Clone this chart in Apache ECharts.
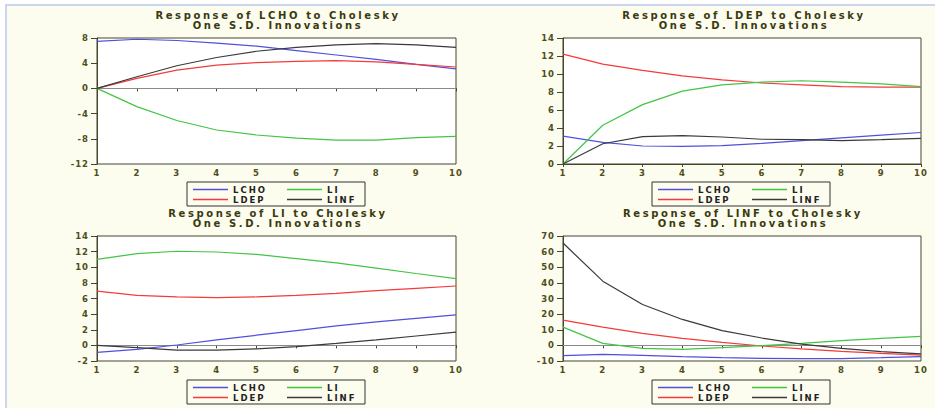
<!DOCTYPE html>
<html>
<head>
<meta charset="utf-8">
<script src="https://cdn.jsdelivr.net/npm/echarts@6/dist/echarts.min.js"></script>
<style>
  html, body { margin: 0; padding: 0; background: #ffffff; }
  #frame { position: absolute; left: 5px; top: 4px; width: 930px; height: 404px;
           border-left: 2px solid #c9d6ee; border-top: 2px solid #c9d6ee; background: #fcfcef; }
  #chart { position: absolute; left: 0; top: 0; width: 935px; height: 408px; }
</style>
</head>
<body>
<div id="frame"></div>
<div id="chart"></div>
<script>
// Periods (x axis)
const periods = [1, 2, 3, 4, 5, 6, 7, 8, 9, 10];
const shocks = ['LCHO', 'LDEP', 'LI', 'LINF'];

// Response of LCHO
const lchoToLCHO = [7.47, 7.8, 7.6, 7.2, 6.7, 6.0, 5.3, 4.6, 3.8, 3.1];
const lchoToLDEP = [0, 1.6, 2.9, 3.7, 4.1, 4.3, 4.4, 4.2, 3.8, 3.4];
const lchoToLI   = [0, -2.9, -5.1, -6.6, -7.4, -7.9, -8.2, -8.2, -7.8, -7.6];
const lchoToLINF = [0, 1.85, 3.6, 4.9, 5.9, 6.5, 6.9, 7.1, 6.9, 6.5];

// Response of LDEP
const ldepToLCHO = [3.1, 2.4, 2.0, 1.95, 2.05, 2.3, 2.6, 2.9, 3.2, 3.5];
const ldepToLDEP = [12.2, 11.1, 10.4, 9.8, 9.35, 9.0, 8.8, 8.6, 8.55, 8.55];
const ldepToLI   = [0, 4.3, 6.6, 8.1, 8.8, 9.1, 9.25, 9.1, 8.9, 8.6];
const ldepToLINF = [0, 2.25, 3.05, 3.15, 3.0, 2.75, 2.7, 2.6, 2.7, 2.85];

// Response of LI
const liToLCHO = [-0.9, -0.5, 0.05, 0.7, 1.3, 1.9, 2.5, 3.0, 3.45, 3.9];
const liToLDEP = [6.95, 6.4, 6.2, 6.1, 6.2, 6.4, 6.65, 7.0, 7.3, 7.6];
const liToLI   = [11.0, 11.75, 12.05, 11.95, 11.65, 11.1, 10.55, 9.9, 9.2, 8.55];
const liToLINF = [0, -0.3, -0.6, -0.6, -0.45, -0.15, 0.25, 0.7, 1.2, 1.7];

// Response of LINF
const linfToLCHO = [-6.6, -5.7, -6.4, -7.2, -7.9, -8.3, -8.5, -8.5, -7.9, -7.2];
const linfToLDEP = [16.2, 11.7, 7.7, 4.5, 1.9, -0.4, -2.3, -3.8, -5.1, -6.2];
const linfToLI   = [11.7, 1.3, -1.9, -2.6, -1.5, -0.2, 1.3, 3.0, 4.5, 5.7];
const linfToLINF = [65.5, 41.1, 26.2, 16.6, 9.4, 4.7, 0.85, -1.9, -4.0, -5.5];

// Panel titles and axis settings
const titles = [
  'Response of LCHO to Cholesky\nOne S.D. Innovations',
  'Response of LDEP to Cholesky\nOne S.D. Innovations',
  'Response of LI to Cholesky\nOne S.D. Innovations',
  'Response of LINF to Cholesky\nOne S.D. Innovations'
];
const yMins = [-12, 0, -2, -10];
const yMaxs = [8, 14, 14, 70];
const yIntervals = [4, 2, 2, 10];
const showZero = [true, false, true, true];

const panelData = [
  [lchoToLCHO, lchoToLDEP, lchoToLI, lchoToLINF],
  [ldepToLCHO, ldepToLDEP, ldepToLI, ldepToLINF],
  [liToLCHO, liToLDEP, liToLI, liToLINF],
  [linfToLCHO, linfToLDEP, linfToLI, linfToLINF]
];

const colors = { LCHO: '#5050dc', LDEP: '#f53a3a', LI: '#44c444', LINF: '#3a3a3a' };
const titleColor = '#3a3a0e';
const labelColor = '#4e4e18';
const axisColor = '#46462a';
const font = 'DejaVu Sans';

// Layout
const grids = [
  { left: 97, top: 38, width: 359, height: 126 },
  { left: 563, top: 38, width: 358, height: 126 },
  { left: 97, top: 236, width: 359, height: 125 },
  { left: 563, top: 236, width: 358, height: 125 }
];
const titlePos = [ [278, 11], [744, 11], [278, 209], [743, 209] ];
const legendPos = [ [187, 182], [652, 182], [187, 380], [652, 380] ];

const option = {
  backgroundColor: 'transparent',
  animation: false,
  title: titles.map((t, i) => ({
    text: t,
    left: titlePos[i][0],
    top: titlePos[i][1],
    textAlign: 'center',
    padding: 0,
    textStyle: { fontFamily: font, fontSize: 10, fontWeight: 'bold', color: titleColor, lineHeight: 9.5 }
  })),
  legend: legendPos.map((p) => ({
    left: p[0],
    top: p[1],
    width: 170,
    orient: 'horizontal',
    padding: [3, 8, 2, 6],
    itemGap: 1,
    itemWidth: 35,
    itemHeight: 1.6,
    icon: 'rect',
    borderColor: '#333333',
    borderWidth: 1,
    selectedMode: false,
    textStyle: { fontFamily: font, fontSize: 8.5, fontWeight: 'bold', color: '#222222', lineHeight: 8 },
    data: [
      { name: 'LCHO', textStyle: { width: 53 } },
      { name: 'LI', textStyle: { width: 30 } },
      { name: 'LDEP', textStyle: { width: 53 } },
      { name: 'LINF', textStyle: { width: 30 } }
    ]
  })),
  grid: grids.map(g => Object.assign({
    show: true, backgroundColor: '#ffffff', borderColor: axisColor, borderWidth: 1, containLabel: false
  }, g)),
  xAxis: grids.map((g, i) => ({
    type: 'value', gridIndex: i, min: 1, max: 10, interval: 1,
    axisLine: { lineStyle: { color: axisColor, width: 1 } },
    axisTick: { length: 3, lineStyle: { color: axisColor } },
    axisLabel: { margin: 4, fontFamily: font, fontSize: 8.5, fontWeight: 'bold', color: labelColor },
    splitLine: { show: false }
  })),
  yAxis: grids.map((g, i) => ({
    type: 'value', gridIndex: i, min: yMins[i], max: yMaxs[i], interval: yIntervals[i],
    axisLine: { onZero: false, lineStyle: { color: axisColor, width: 1 } },
    axisTick: { length: 6, lineStyle: { color: axisColor } },
    axisLabel: { margin: 8, fontFamily: font, fontSize: 8.5, fontWeight: 'bold', color: labelColor },
    splitLine: { show: false }
  })),
  series: []
};

panelData.forEach((arrs, p) => {
  arrs.forEach((arr, s) => {
    const name = shocks[s];
    const ser = {
      type: 'line', name: name, xAxisIndex: p, yAxisIndex: p,
      data: periods.map((x, k) => [x, arr[k]]),
      symbol: 'none', smooth: false, color: colors[name],
      lineStyle: { width: 1.2, color: colors[name] },
      z: 3
    };
    if (s === 0 && showZero[p]) {
      ser.markLine = {
        silent: true, symbol: 'none', label: { show: false },
        lineStyle: { color: '#8a8a8a', width: 1, type: 'solid' },
        data: [{ yAxis: 0 }],
        z: 2
      };
    }
    option.series.push(ser);
  });
});

const chart = echarts.init(document.getElementById('chart'), null, { renderer: 'svg' });
chart.setOption(option);

// The reference typography is widely spaced; widen glyph spacing of the SVG text.
function spaceText() {
  document.querySelectorAll('#chart text').forEach(t => {
    const s = t.textContent || '';
    let ls = '1px';
    if (/^(Response|One)/.test(s)) ls = '2.6px';
    else if (shocks.indexOf(s) >= 0) ls = '2px';
    t.style.letterSpacing = ls;
  });
}
spaceText();
chart.on('finished', spaceText);
</script>
</body>
</html>
